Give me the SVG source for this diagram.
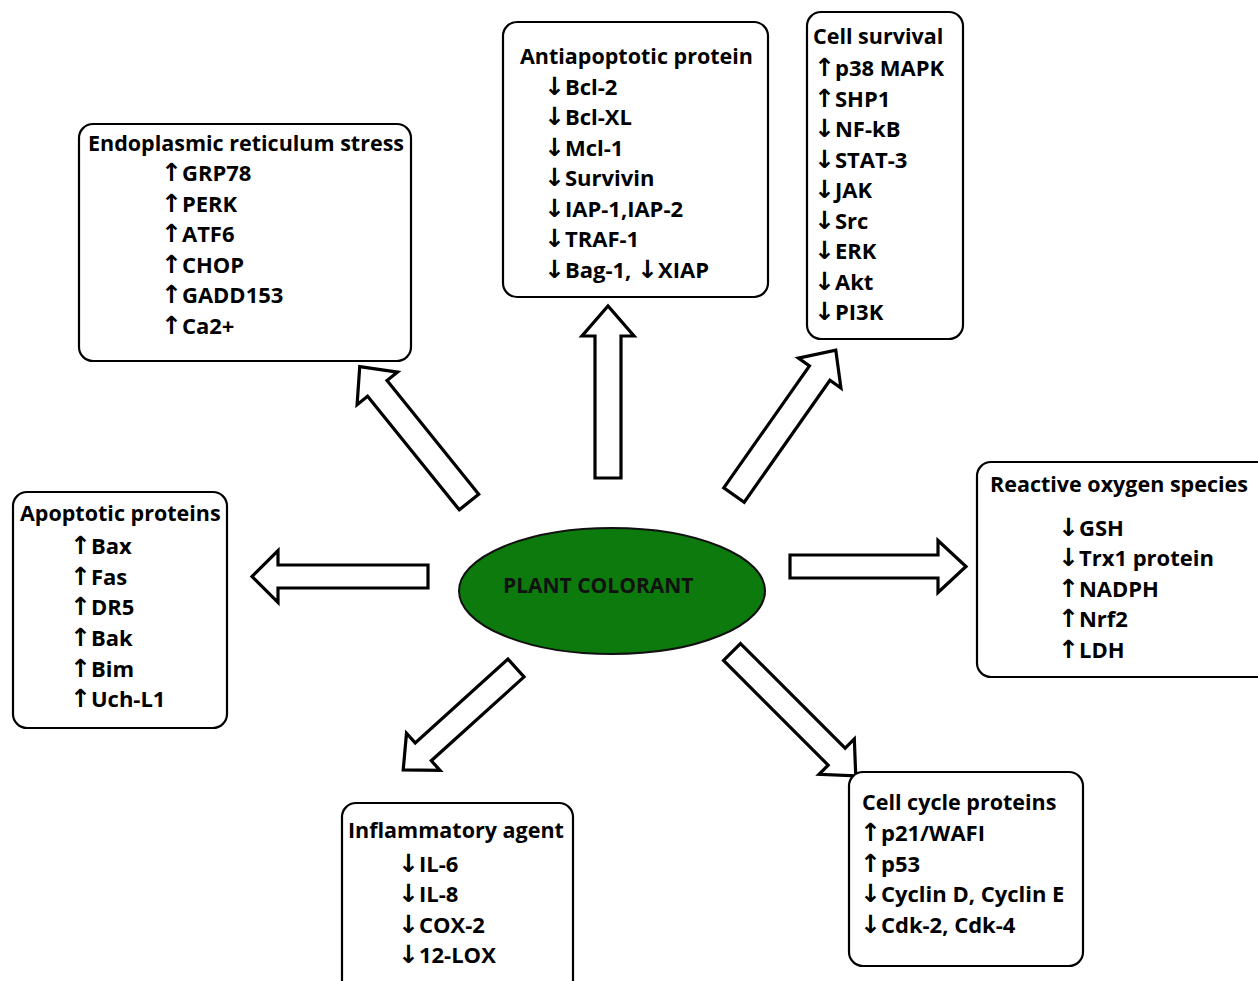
<svg xmlns="http://www.w3.org/2000/svg" width="1258" height="981" viewBox="0 0 1258 981">
<defs>
<style>
.box{fill:#fff;stroke:#000;stroke-width:2.2}
.t{font-family:"Open Sans","DejaVu Sans",sans-serif;font-weight:bold;font-size:22px;fill:#000}
.h{font-size:21.5px}
.g{font-family:"DejaVu Sans",sans-serif;font-weight:bold;font-size:25px}
.arr{fill:#fff;stroke:#000;stroke-width:3.2;stroke-linejoin:miter}
</style>
</defs>
<rect width="1258" height="981" fill="#fff"/>

<g id="connectors">
<polygon class="arr" points="0,-13 142,-13 142,-26 172,0 142,26 142,13 0,13" transform="translate(608,478) rotate(-90)"/>
<polygon class="arr" points="0,-12.5 146,-12.5 146,-26 174,0 146,26 146,12.5 0,12.5" transform="translate(469,502) rotate(-128.9)"/>
<polygon class="arr" points="0,-12.5 149,-12.5 149,-26 177,0 149,26 149,12.5 0,12.5" transform="translate(734,495) rotate(-54.9)"/>
<polygon class="arr" points="0,-11.5 150,-11.5 150,-26 176,0 150,26 150,11.5 0,11.5" transform="translate(428,576.5) rotate(180)"/>
<polygon class="arr" points="0,-11.5 148,-11.5 148,-26 176,0 148,26 148,11.5 0,11.5" transform="translate(790,566.5)"/>
<polygon class="arr" points="0,-12 125,-12 125,-25 152,0 125,25 125,12 0,12" transform="translate(516,668) rotate(137.9)"/>
<polygon class="arr" points="0,-12 148,-12 148,-25 175,0 148,25 148,12 0,12" transform="translate(732,652) rotate(45)"/>
</g>

<g id="center">
<ellipse cx="612" cy="591" rx="153" ry="63" fill="#0c7a0c" stroke="#111" stroke-width="2"/>
<text class="t" x="503" y="593" style="font-size:21px;fill:#111">PLANT COLORANT</text>
</g>

<g id="er-stress">
<rect class="box" x="79" y="124" width="332" height="237" rx="14"/>
<text class="t h" x="88" y="151">Endoplasmic reticulum stress</text>
<text class="t" x="161" y="181"><tspan class="g">↑</tspan>GRP78</text>
<text class="t" x="161" y="212"><tspan class="g">↑</tspan>PERK</text>
<text class="t" x="161" y="242"><tspan class="g">↑</tspan>ATF6</text>
<text class="t" x="161" y="273"><tspan class="g">↑</tspan>CHOP</text>
<text class="t" x="161" y="303"><tspan class="g">↑</tspan>GADD153</text>
<text class="t" x="161" y="334"><tspan class="g">↑</tspan>Ca2+</text>
</g>

<g id="antiapoptotic">
<rect class="box" x="503" y="22" width="265" height="275" rx="14"/>
<text class="t h" x="520" y="64">Antiapoptotic protein</text>
<text class="t" x="544" y="95"><tspan class="g">↓</tspan>Bcl-2</text>
<text class="t" x="544" y="125"><tspan class="g">↓</tspan>Bcl-XL</text>
<text class="t" x="544" y="156"><tspan class="g">↓</tspan>Mcl-1</text>
<text class="t" x="544" y="186"><tspan class="g">↓</tspan>Survivin</text>
<text class="t" x="544" y="217"><tspan class="g">↓</tspan>IAP-1,IAP-2</text>
<text class="t" x="544" y="247"><tspan class="g">↓</tspan>TRAF-1</text>
<text class="t" x="544" y="278"><tspan class="g">↓</tspan>Bag-1, <tspan class="g">↓</tspan>XIAP</text>
</g>

<g id="cell-survival">
<rect class="box" x="807" y="12" width="156" height="327" rx="14"/>
<text class="t h" x="813" y="44">Cell survival</text>
<text class="t" x="814" y="76"><tspan class="g">↑</tspan>p38 MAPK</text>
<text class="t" x="814" y="107"><tspan class="g">↑</tspan>SHP1</text>
<text class="t" x="814" y="137"><tspan class="g">↓</tspan>NF-kB</text>
<text class="t" x="814" y="168"><tspan class="g">↓</tspan>STAT-3</text>
<text class="t" x="814" y="198"><tspan class="g">↓</tspan>JAK</text>
<text class="t" x="814" y="229"><tspan class="g">↓</tspan>Src</text>
<text class="t" x="814" y="259"><tspan class="g">↓</tspan>ERK</text>
<text class="t" x="814" y="290"><tspan class="g">↓</tspan>Akt</text>
<text class="t" x="814" y="320"><tspan class="g">↓</tspan>PI3K</text>
</g>

<g id="ros">
<rect class="box" x="977" y="462" width="300" height="215" rx="14"/>
<text class="t h" x="990" y="492">Reactive oxygen species</text>
<text class="t" x="1058" y="536"><tspan class="g">↓</tspan>GSH</text>
<text class="t" x="1058" y="566"><tspan class="g">↓</tspan>Trx1 protein</text>
<text class="t" x="1058" y="597"><tspan class="g">↑</tspan>NADPH</text>
<text class="t" x="1058" y="627"><tspan class="g">↑</tspan>Nrf2</text>
<text class="t" x="1058" y="658"><tspan class="g">↑</tspan>LDH</text>
</g>

<g id="apoptotic">
<rect class="box" x="13" y="492" width="214" height="236" rx="14"/>
<text class="t h" x="20" y="521">Apoptotic proteins</text>
<text class="t" x="70" y="554"><tspan class="g">↑</tspan>Bax</text>
<text class="t" x="70" y="585"><tspan class="g">↑</tspan>Fas</text>
<text class="t" x="70" y="615"><tspan class="g">↑</tspan>DR5</text>
<text class="t" x="70" y="646"><tspan class="g">↑</tspan>Bak</text>
<text class="t" x="70" y="677"><tspan class="g">↑</tspan>Bim</text>
<text class="t" x="70" y="707"><tspan class="g">↑</tspan>Uch-L1</text>
</g>

<g id="inflammatory">
<rect class="box" x="342" y="803" width="231" height="200" rx="14"/>
<text class="t h" x="348" y="838">Inflammatory agent</text>
<text class="t" x="398" y="872"><tspan class="g">↓</tspan>IL-6</text>
<text class="t" x="398" y="902"><tspan class="g">↓</tspan>IL-8</text>
<text class="t" x="398" y="933"><tspan class="g">↓</tspan>COX-2</text>
<text class="t" x="398" y="963"><tspan class="g">↓</tspan>12-LOX</text>
</g>

<g id="cell-cycle">
<rect class="box" x="849" y="772" width="234" height="194" rx="14"/>
<text class="t h" x="862" y="810">Cell cycle proteins</text>
<text class="t" x="860" y="841"><tspan class="g">↑</tspan>p21/WAFI</text>
<text class="t" x="860" y="872"><tspan class="g">↑</tspan>p53</text>
<text class="t" x="860" y="902"><tspan class="g">↓</tspan>Cyclin D, Cyclin E</text>
<text class="t" x="860" y="933"><tspan class="g">↓</tspan>Cdk-2, Cdk-4</text>
</g>
</svg>
